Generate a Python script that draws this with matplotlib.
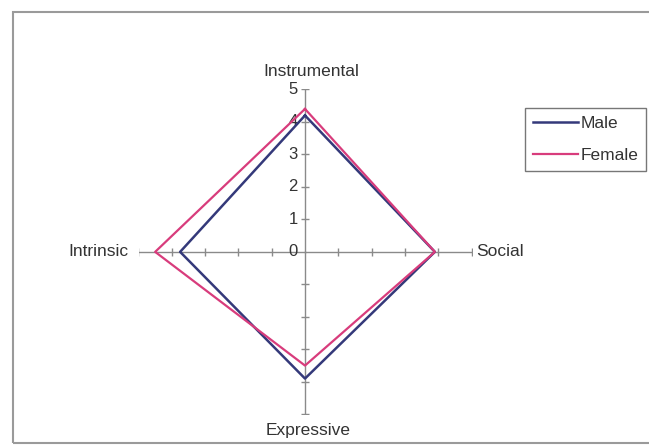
import matplotlib.pyplot as plt
import numpy as np
from matplotlib.patches import Rectangle

plt.rcParams['font.family'] = ['Liberation Sans', 'DejaVu Sans']

categories = ['Instrumental', 'Social', 'Expressive', 'Intrinsic']
male = [4.2, 3.9, 3.9, 3.75]
female = [4.4, 3.9, 3.5, 4.5]
tick_values = [0, 1, 2, 3, 4, 5]

# clockwise from the top, like the excel radar
angles = np.pi / 2 - np.arange(len(categories)) * np.pi / 2


def to_xy(vals):
    vals = np.array(vals + vals[:1], dtype=float)
    ang = np.concatenate([angles, angles[:1]])
    return vals * np.cos(ang), vals * np.sin(ang)


fig = plt.figure(figsize=(6.49, 4.45), dpi=100)
ax = fig.add_axes([138.5 / 649, 0.069, 333 / 649, 0.730])
ax.set_xlim(-5, 5)
ax.set_ylim(-5, 5)
ax.axis('off')

axis_col = '#8a8a8a'
rmax = tick_values[-1]
for a in angles:
    ax.plot([0, rmax * np.cos(a)], [0, rmax * np.sin(a)], color=axis_col, lw=1.0, zorder=1)
    r = np.array(tick_values[1:])
    mk = '_' if abs(np.cos(a)) < 0.5 else '|'
    ax.plot(r * np.cos(a), r * np.sin(a), ls='none', marker=mk, ms=6, mew=1.0,
            color=axis_col, zorder=1)

for t in tick_values:
    ax.text(-0.22, t, str(t), ha='right', va='center', fontsize=12, color='#333333')

mx, my = to_xy(male)
fx, fy = to_xy(female)
ax.plot(mx, my, color='#34397a', lw=1.8, label='Male', zorder=3)
ax.plot(fx, fy, color='#d83c7c', lw=1.6, label='Female', zorder=3)

lab_pos = {
    'Instrumental': (0.2, 5.55, 'center', 'center'),
    'Social': (5.15, 0, 'left', 'center'),
    'Expressive': (0.1, -5.5, 'center', 'center'),
    'Intrinsic': (-5.3, 0, 'right', 'center'),
}
for c in categories:
    x, y, ha, va = lab_pos[c]
    ax.text(x, y, c, ha=ha, va=va, fontsize=12.5, color='#333333')

leg = fig.legend(loc='upper left', bbox_to_anchor=(525 / 649, 1 - 108 / 445),
                 fontsize=12.5, frameon=True, fancybox=False, handlelength=2.6,
                 handletextpad=0.15, labelspacing=1.0, borderpad=0.45,
                 borderaxespad=0)
leg.get_frame().set_edgecolor('#555555')
leg.get_frame().set_linewidth(1.0)
for t in leg.get_texts():
    t.set_color('#333333')

fig.patches.append(Rectangle((13 / 649, 2 / 445), 1 - 13 / 649 + 0.01, 1 - 14 / 445,
                             transform=fig.transFigure, fill=False,
                             edgecolor='#9a9a9a', lw=1.5))

fig.savefig('out.png', dpi=100)
